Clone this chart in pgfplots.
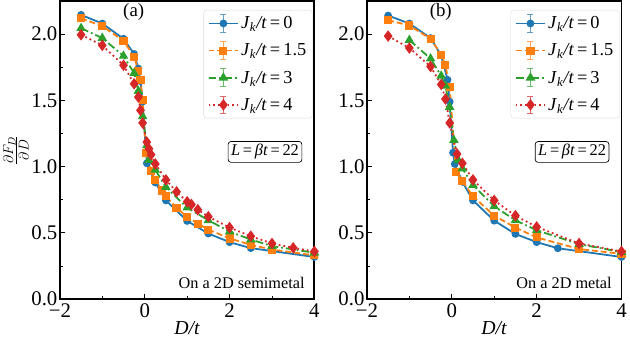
\documentclass[border=0pt]{standalone}
\usepackage{fontspec}
\setmainfont{Liberation Serif}
\usepackage{pgfplots}
\pgfplotsset{compat=1.18}

\definecolor{tabblue}{HTML}{1F77B4}
\definecolor{taborange}{HTML}{FF7F0E}
\definecolor{tabgreen}{HTML}{2CA02C}
\definecolor{tabred}{HTML}{D62728}

\newcommand{\Jk}[1]{\textit{J}\textsubscript{\textit{k}}\textit{/t}\,=\,#1}

\pgfplotsset{
  legend image code/.code={
    \draw[#1,solid,mark=none,line width=0.9pt,opacity=0.7] (15pt,-9pt) -- (15pt,9pt)
      (12pt,-9pt) -- (18pt,-9pt) (12pt,9pt) -- (18pt,9pt);
    \draw[mark repeat=2,mark phase=2,#1] plot coordinates {(0pt,0pt) (15pt,0pt) (30pt,0pt)};
  },
  s0/.style={color=tabblue, solid, line width=1.8pt, mark=*, mark size=3pt, mark options={solid}},
  s1/.style={color=taborange, dash pattern=on 6pt off 3pt, line width=1.8pt, mark=square*, mark size=3.2pt, mark options={solid}},
  s2/.style={color=tabgreen, dash pattern=on 8pt off 3pt on 1.8pt off 3pt, line width=1.8pt, mark=triangle*, mark size=3.8pt, mark options={solid}},
  s3/.style={color=tabred, dash pattern=on 1.8pt off 3pt, line width=1.8pt, mark=diamond*, mark size=4.4pt, mark options={solid}},
  panel/.style={
    scale only axis, width=257pt, height=301pt,
    xmin=-2, xmax=4, ymin=0, ymax=2.25,
    axis line style={line width=2pt},
    tick align=inside, tick style={black, line width=1pt},
    major tick length=5.5pt, minor tick length=3.5pt,
    xtick={-2,0,2,4}, xticklabels={−2,0,2,4}, minor xtick={-1,1,3},
    ytick={0,0.5,1,1.5,2}, minor ytick={0.25,0.75,1.25,1.75},
    xtick pos=bottom, ytick pos=left,
    yticklabel style={xshift=1pt, /pgf/number format/.cd, fixed, fixed zerofill, precision=1},
    /pgf/number format/assume math mode=true,
    tick label style={font=\fontsize{21}{23}\selectfont},
    xticklabel style={yshift=-1pt},
    xlabel={\textit{D/t}}, xlabel style={font=\fontsize{20}{22}\selectfont, yshift=3pt},
    legend style={at={(rel axis cs:0.992,0.97)}, anchor=north east,
      draw=black!15, rounded corners=3pt, fill=white,
      font=\fontsize{18.5}{20}\selectfont, row sep=8.5pt, inner sep=4pt,
      cells={anchor=west}},
    clip=false,
  },
}

\begin{document}
\begin{tikzpicture}
\begin{axis}[panel,
  ylabel={$\frac{\partial F_D}{\partial D}$},
  ylabel style={font=\fontsize{21}{23}\selectfont, yshift=-4pt}]
\addplot[s0] coordinates {(-1.5,2.145)(-1,2.08)(-0.5,1.965)(-0.25,1.85)(-0.15,1.74)(-0.1,1.645)(-0.05,1.49)(0.05,1.025)(0.25,0.88)(0.5,0.745)(1,0.59)(1.5,0.495)(2,0.43)(2.5,0.385)(4,0.318)};
\addlegendentry{\Jk{0}}
\addplot[s1] coordinates {(-1.5,2.12)(-1,2.06)(-0.5,1.95)(-0.25,1.83)(-0.15,1.72)(-0.1,1.655)(-0.05,1.505)(0.03,1.10)(0.15,0.97)(0.25,0.9)(0.4,0.82)(0.5,0.775)(0.75,0.69)(1,0.62)(1.25,0.57)(1.5,0.525)(2,0.458)(2.5,0.41)(3,0.374)(4,0.33)};
\addlegendentry{\Jk{1.5}}
\addplot[s2] coordinates {(-1.5,2.045)(-1,1.97)(-0.5,1.835)(-0.25,1.705)(-0.15,1.57)(-0.05,1.38)(0.05,1.16)(0.1,1.05)(0.25,0.975)(0.5,0.845)(1,0.69)(1.5,0.595)(2,0.51)(2.5,0.45)(3,0.40)(4,0.35)};
\addlegendentry{\Jk{3}}
\addplot[s3] coordinates {(-1.5,1.995)(-1,1.915)(-0.5,1.765)(-0.25,1.625)(-0.15,1.525)(-0.1,1.425)(-0.05,1.33)(0.05,1.185)(0.1,1.135)(0.15,1.09)(0.25,1.02)(0.5,0.9)(0.75,0.81)(1,0.735)(1.1,0.715)(1.25,0.675)(1.5,0.622)(2,0.54)(2.5,0.475)(3,0.42)(3.5,0.387)(4,0.36)};
\addlegendentry{\Jk{4}}
\node[font=\fontsize{19}{21}\selectfont] at (rel axis cs:0.29,0.963) {(a)};
\node[draw, rounded corners=3pt, line width=0.7pt, inner sep=3pt, font=\fontsize{16.5}{18}\selectfont, anchor=north east] at (rel axis cs:0.952,0.53) {\textit{L}\,=\,\textit{βt}\,=\,22};
\node[font=\fontsize{16.4}{18}\selectfont, anchor=south east] at (rel axis cs:0.975,0.025) {On a 2D semimetal};
\end{axis}

\begin{axis}[panel, xshift=310pt]
\addplot[s0] coordinates {(-1.5,2.14)(-1,2.08)(-0.5,1.97)(-0.25,1.84)(-0.1,1.655)(-0.05,1.49)(0.03,1.105)(0.07,1.02)(0.25,0.885)(0.5,0.745)(1,0.592)(1.5,0.492)(2,0.43)(2.5,0.384)(4,0.318)};
\addlegendentry{\Jk{0}}
\addplot[s1] coordinates {(-1.5,2.105)(-1,2.065)(-0.5,1.965)(-0.25,1.845)(-0.15,1.765)(-0.05,1.6)(0.1,0.96)(0.25,0.89)(0.5,0.776)(1,0.63)(1.5,0.54)(2,0.466)(3,0.378)(4,0.342)};
\addlegendentry{\Jk{1.5}}
\addplot[s2] coordinates {(-1,1.955)(-0.5,1.815)(-0.25,1.685)(-0.15,1.61)(-0.05,1.45)(0.05,1.2)(0.15,1.05)(0.25,0.985)(0.5,0.86)(1,0.70)(1.5,0.595)(2,0.52)(3,0.415)(4,0.355)};
\addlegendentry{\Jk{3}}
\addplot[s3] coordinates {(-1.5,1.985)(-1,1.895)(-0.5,1.755)(-0.25,1.62)(-0.15,1.51)(-0.05,1.33)(0.125,1.095)(0.25,1.025)(0.5,0.9)(1,0.745)(1.5,0.63)(2,0.545)(3,0.42)(4,0.36)};
\addlegendentry{\Jk{4}}
\node[font=\fontsize{19}{21}\selectfont] at (rel axis cs:0.29,0.963) {(b)};
\node[draw, rounded corners=3pt, line width=0.7pt, inner sep=3pt, font=\fontsize{16.5}{18}\selectfont, anchor=north east] at (rel axis cs:0.952,0.53) {\textit{L}\,=\,\textit{βt}\,=\,22};
\node[font=\fontsize{16.4}{18}\selectfont, anchor=south east] at (rel axis cs:0.975,0.025) {On a 2D metal};
\end{axis}
\end{tikzpicture}
\end{document}
